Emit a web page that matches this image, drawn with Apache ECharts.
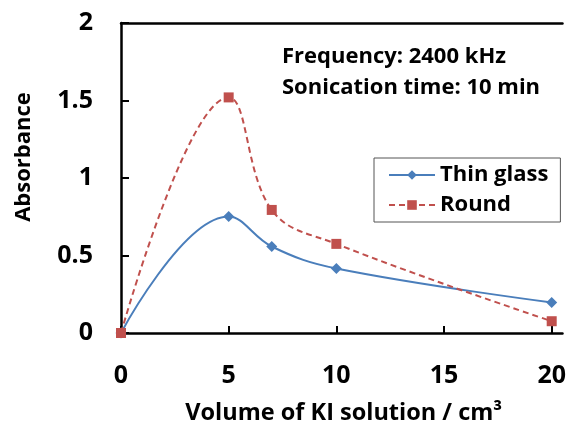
<!DOCTYPE html>
<html><head><meta charset="utf-8">
<script src="https://cdn.jsdelivr.net/npm/echarts@6/dist/echarts.min.js"></script>
<style>html,body{margin:0;padding:0;background:#fff;overflow:hidden}#c{width:569px;height:430px}</style>
</head><body><div id="c"></div>
<script>
const xValues = [0, 5, 7, 10, 20];
const thinGlass = [0, 0.752, 0.558, 0.416, 0.197];
const roundFlask = [0, 1.52, 0.794, 0.575, 0.076];
const seriesNames = ['Thin glass', 'Round'];
const annotation = ['Frequency: 2400 kHz', 'Sonication time: 10 min'];
const FONT = 'Open Sans';

const chart = echarts.init(document.getElementById('c'), null, {renderer: 'canvas'});
const pair = (ys) => xValues.map((x, i) => [x, ys[i]]);
chart.setOption({
  animation: false,
  backgroundColor: '#fff',
  textStyle: {fontFamily: FONT},
  grid: {left: 121, top: 23, right: 0, bottom: 93, containLabel: false},
  legend: {
    left: 374, top: 158, width: 190, orient: 'vertical',
    padding: [6, 12, 6, 14], itemGap: 8, itemWidth: 46, itemHeight: 12,
    borderColor: '#555', borderWidth: 1,
    textStyle: {fontSize: 22, fontWeight: 'bold', color: '#000', fontFamily: FONT},
    data: seriesNames
  },
  xAxis: [{
    type: 'value', min: 0, max: 20.5, interval: 5,
    axisLine: {show: true, lineStyle: {color: '#000', width: 2.5}},
    axisTick: {show: true, inside: true, length: 7, lineStyle: {color: '#000', width: 2}},
    axisLabel: {showMaxLabel: false, fontSize: 25, fontWeight: 'bold', color: '#000', margin: 30, fontFamily: FONT},
    splitLine: {show: false},
    name: 'Volume of KI solution / cm\u00B3', nameLocation: 'middle', nameGap: 68,
    nameTextStyle: {fontSize: 23.5, fontWeight: 'bold', color: '#000', fontFamily: FONT, padding: [0, 0, 0, 4]}
  }, {
    type: 'value', position: 'top', min: 0, max: 20.5,
    axisLine: {show: true, onZero: false, lineStyle: {color: '#000', width: 2.5}},
    axisTick: {show: false}, axisLabel: {show: false}, splitLine: {show: false}
  }],
  yAxis: {
    type: 'value', min: 0, max: 2, interval: 0.5,
    axisLine: {show: true, lineStyle: {color: '#000', width: 2.5}},
    axisTick: {show: true, inside: true, length: 8, lineStyle: {color: '#000', width: 2}},
    axisLabel: {fontSize: 25, fontWeight: 'bold', color: '#000', margin: 28, fontFamily: FONT},
    splitLine: {show: false}
  },
  graphic: [
    {type: 'text', x: 24, y: 157, rotation: Math.PI / 2,
     style: {text: 'Absorbance', font: 'bold 22px ' + FONT, fill: '#000', align: 'center', verticalAlign: 'middle'}},
    {type: 'text', x: 282, y: 46,
     style: {text: annotation[0], font: 'bold 22px ' + FONT, fill: '#000'}},
    {type: 'text', x: 282, y: 77,
     style: {text: annotation[1], font: 'bold 22px ' + FONT, fill: '#000'}}
  ],
  series: [{
    name: seriesNames[0], type: 'line', data: pair(thinGlass), smooth: 0.4,
    symbol: 'diamond', symbolSize: 11,
    lineStyle: {color: '#4A7EBB', width: 2},
    itemStyle: {color: '#4A7EBB'}
  }, {
    name: seriesNames[1], type: 'line', data: pair(roundFlask), smooth: 0.4,
    symbol: 'rect', symbolSize: 10,
    lineStyle: {color: '#C0504D', width: 2, type: [6, 4]},
    itemStyle: {color: '#C0504D'}
  }]
});
</script></body></html>
